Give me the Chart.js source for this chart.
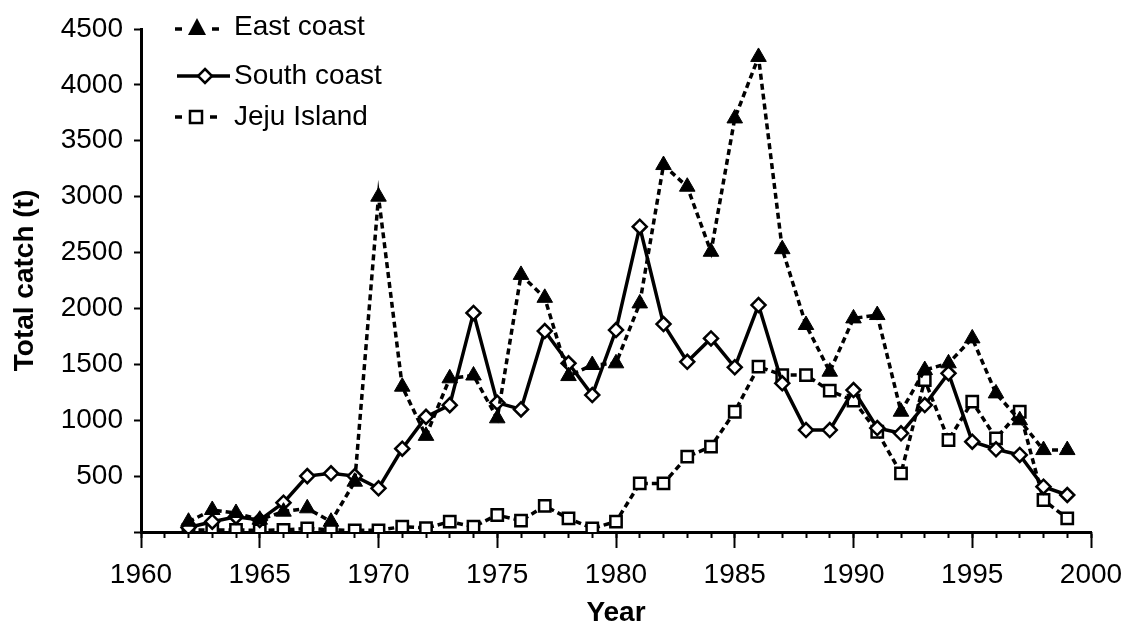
<!DOCTYPE html>
<html>
<head>
<meta charset="utf-8">
<title>Total catch by region</title>
<script src="https://cdn.jsdelivr.net/npm/chart.js@4.4.1/dist/chart.umd.min.js"></script>
<style>
    html, body { margin: 0; padding: 0; background: #fff; }
    #wrap { position: relative; width: 1127px; height: 627px; }
    #chart { position: absolute; left: 0; top: 0; }
    .legend-glyph { position: absolute; left: 172px; }
    .legend-text {
        position: absolute; left: 234px; height: 34px; line-height: 34px;
        font: 28px "Liberation Sans", Arial, sans-serif; color: #000; white-space: nowrap;
    }
</style>
</head>
<body>
<div id="wrap">
    <canvas id="chart" width="1127" height="627"></canvas>
    <div id="legend"></div>
</div>
<script>
// Data (tonnes per year)
const years = [1962, 1963, 1964, 1965, 1966, 1967, 1968, 1969, 1970, 1971,
    1972, 1973, 1974, 1975, 1976, 1977, 1978, 1979, 1980, 1981,
    1982, 1983, 1984, 1985, 1986, 1987, 1988, 1989, 1990, 1991,
    1992, 1993, 1994, 1995, 1996, 1997, 1998, 1999];

const eastCoast = [92, 197, 170, 110, 182, 212, 92, 450, 3000, 1300,
    860, 1375, 1400, 1017, 2300, 2095, 1395, 1494, 1509, 2045,
    3283, 3089, 2507, 3700, 4250, 2530, 1852, 1434, 1911, 1941,
    1076, 1449, 1509, 1732, 1240, 1000, 733, 733];

const southCoast = [40, 92, 137, 107, 262, 500, 525, 500, 391, 745,
    1030, 1135, 1960, 1157, 1097, 1798, 1509, 1225, 1807, 2731,
    1860, 1523, 1732, 1473, 2030, 1330, 912, 912, 1270, 930,
    883, 1136, 1420, 808, 740, 689, 405, 331];

const jejuIsland = [18, 18, 18, 15, 18, 33, 18, 15, 15, 48,
    35, 92, 48, 152, 101, 233, 122, 33, 92, 435,
    435, 674, 763, 1076, 1479, 1404, 1404, 1264, 1175, 897,
    525, 1360, 823, 1166, 838, 1076, 286, 122];

const seriesNames = ['East coast', 'South coast', 'Jeju Island'];
const xTickYears = [1960, 1965, 1970, 1975, 1980, 1985, 1990, 1995, 2000];
const yTickValues = [0, 500, 1000, 1500, 2000, 2500, 3000, 3500, 4000, 4500];

const FONT = '"Liberation Sans", Arial, sans-serif';

function toPoints(values) {
    return years.map((year, i) => ({ x: year, y: values[i] }));
}

// legend sits inside the plot, top left, like the original
function renderLegend() {
    const glyphs = [
        `<svg width="56" height="24">
            <line x1="3" y1="14" x2="10" y2="14" stroke="#000" stroke-width="3.5"/>
            <polygon points="25,3 34,20 16,20" fill="#000"/>
            <line x1="40" y1="14" x2="47" y2="14" stroke="#000" stroke-width="3.5"/>
        </svg>`,
        `<svg width="60" height="24">
            <line x1="5" y1="12" x2="58" y2="12" stroke="#000" stroke-width="3.5"/>
            <polygon points="33,5 40,12 33,19 26,12" fill="#fff" stroke="#000" stroke-width="2.5"/>
        </svg>`,
        `<svg width="56" height="24">
            <line x1="3" y1="12" x2="10" y2="12" stroke="#000" stroke-width="3.5"/>
            <rect x="18" y="6" width="12" height="12" fill="#fff" stroke="#000" stroke-width="2.5"/>
            <line x1="38" y1="12" x2="45" y2="12" stroke="#000" stroke-width="3.5"/>
        </svg>`
    ];
    const centers = [27, 76, 117];

    document.getElementById('legend').innerHTML = seriesNames.map((name, i) => `
        <div class="legend-glyph" style="top:${centers[i] - 12}px">${glyphs[i]}</div>
        <div class="legend-text" style="top:${centers[i] - 17}px">${name}</div>
    `).join('');
}

// keep the plot edges fixed (1960 at x=141, 2000 at x=1091)
function fixBottomAxis(height) {
    return (scale) => {
        scale.height = height;
        scale.paddingLeft = 0;
        scale.paddingRight = 0;
    };
}

const ctx = document.getElementById('chart');

new Chart(ctx, {
    type: 'line',
    data: {
        datasets: [
            {
                label: seriesNames[0],
                data: toPoints(eastCoast),
                xAxisID: 'x',
                yAxisID: 'y',
                borderColor: '#000',
                backgroundColor: '#000',
                borderWidth: 3.5,
                borderDash: [6, 4],
                pointStyle: 'triangle',
                pointRadius: 9,
                pointBackgroundColor: '#000',
                pointBorderColor: '#000',
                pointBorderWidth: 1,
                tension: 0
            },
            {
                label: seriesNames[1],
                data: toPoints(southCoast),
                xAxisID: 'x',
                yAxisID: 'y',
                borderColor: '#000',
                backgroundColor: '#fff',
                borderWidth: 3.5,
                pointStyle: 'rectRot',
                pointRadius: 7,
                pointBackgroundColor: '#fff',
                pointBorderColor: '#000',
                pointBorderWidth: 2.5,
                tension: 0
            },
            {
                label: seriesNames[2],
                data: toPoints(jejuIsland),
                xAxisID: 'x',
                yAxisID: 'y',
                borderColor: '#000',
                backgroundColor: '#fff',
                borderWidth: 3.5,
                borderDash: [6, 4],
                pointStyle: 'rect',
                pointRadius: 8,
                pointBackgroundColor: '#fff',
                pointBorderColor: '#000',
                pointBorderWidth: 2.5,
                tension: 0
            }
        ]
    },
    options: {
        responsive: false,
        animation: false,
        layout: {
            padding: { top: 29, right: 36, bottom: 0, left: 0 }
        },
        plugins: {
            legend: { display: false },
            tooltip: { enabled: false }
        },
        scales: {
            // yearly minor ticks, no labels, zero height so it sits on the axis line
            xMinor: {
                type: 'linear',
                position: 'bottom',
                min: 1960,
                max: 2000,
                ticks: { display: false, stepSize: 1 },
                grid: { drawOnChartArea: false, tickLength: 6, tickColor: '#000', tickWidth: 2 },
                border: { display: false },
                afterFit: fixBottomAxis(0)
            },
            x: {
                type: 'linear',
                position: 'bottom',
                weight: 1,
                min: 1960,
                max: 2000,
                afterBuildTicks: (scale) => {
                    scale.ticks = xTickYears.map(v => ({ value: v }));
                },
                ticks: {
                    color: '#000',
                    font: { family: FONT, size: 28 },
                    padding: 10,
                    maxRotation: 0,
                    autoSkip: false,
                    callback: (value) => String(value)
                },
                grid: { drawOnChartArea: false, tickLength: 16, tickColor: '#000', tickWidth: 2 },
                border: { color: '#000', width: 3 },
                title: {
                    display: true,
                    text: 'Year',
                    color: '#000',
                    font: { family: FONT, size: 28, weight: 'bold', lineHeight: 1 },
                    padding: { top: 0, bottom: 0 }
                },
                afterFit: fixBottomAxis(95)
            },
            y: {
                type: 'linear',
                min: 0,
                max: 4500,
                afterBuildTicks: (scale) => {
                    scale.ticks = yTickValues.map(v => ({ value: v }));
                },
                ticks: {
                    color: '#000',
                    font: { family: FONT, size: 28 },
                    padding: 11,
                    callback: (value) => value === 0 ? '' : String(value)
                },
                grid: { drawOnChartArea: false, tickLength: 7, tickColor: '#000', tickWidth: 2 },
                border: { color: '#000', width: 3 },
                title: {
                    display: true,
                    text: 'Total catch (t)',
                    color: '#000',
                    font: { family: FONT, size: 28, weight: 'bold' },
                    padding: { top: 8, bottom: 0 }
                },
                afterFit: (scale) => { scale.width = 141; }
            }
        }
    }
});

renderLegend();
</script>
</body>
</html>
